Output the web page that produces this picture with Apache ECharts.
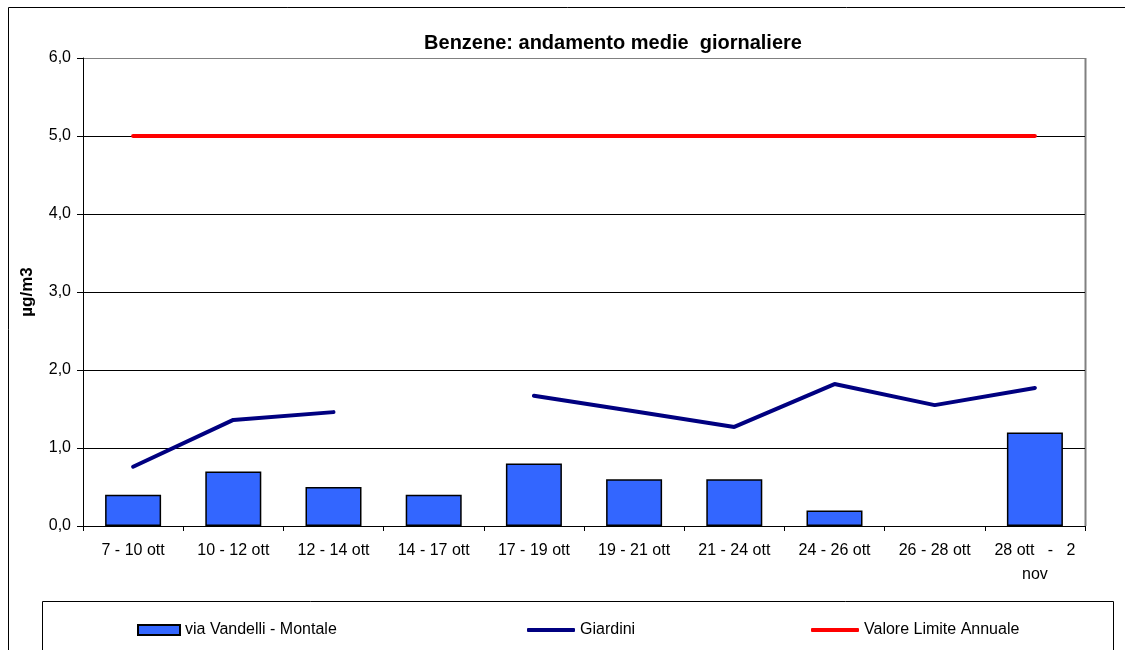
<!DOCTYPE html>
<html>
<head>
<meta charset="utf-8">
<script src="https://cdn.jsdelivr.net/npm/echarts@6/dist/echarts.min.js"></script>
<style>
  html, body { margin: 0; padding: 0; background: #fff; }
  #chart { width: 1125px; height: 650px; }
</style>
</head>
<body>
<div id="chart"></div>
<script>
const categories = ['7 - 10 ott', '10 - 12 ott', '12 - 14 ott', '14 - 17 ott', '17 - 19 ott',
  '19 - 21 ott', '21 - 24 ott', '24 - 26 ott', '26 - 28 ott', '28 ott   -   2\nnov'];
const vandelli = [0.4, 0.7, 0.5, 0.4, 0.8, 0.6, 0.6, 0.2, null, 1.2];
const giardini = [0.76, 1.36, 1.46, null, 1.67, 1.47, 1.27, 1.82, 1.55, 1.77];
const limite = [5, 5, 5, 5, 5, 5, 5, 5, 5, 5];
const yTicks = [0, 1, 2, 3, 4, 5, 6];

const font = 'Liberation Sans, Arial, sans-serif';
const chart = echarts.init(document.getElementById('chart'));

const legendBase = {
  top: 617,
  textStyle: { fontFamily: font, fontSize: 16, color: '#000' },
  itemGap: 4
};

chart.setOption({
  animation: false,
  title: {
    text: 'Benzene: andamento medie  giornaliere',
    left: 608, top: 28, textAlign: 'center',
    textStyle: { fontFamily: font, fontSize: 20, fontWeight: 'bold', color: '#000' }
  },
  graphic: [
    { type: 'rect', shape: { x: 8.5, y: 7.5, width: 1130, height: 660 },
      style: { fill: 'none', stroke: '#000', lineWidth: 1 }, z: -1 },
    { type: 'rect', shape: { x: 42.5, y: 601.5, width: 1071, height: 60 },
      style: { fill: 'none', stroke: '#000', lineWidth: 1 }, z: -1 },
    // right border of the plot area
    { type: 'line', shape: { x1: 1085.5, y1: 58, x2: 1085.5, y2: 526 },
      style: { stroke: '#808080', lineWidth: 2 }, z: 0 }
  ],
  legend: [
    Object.assign({}, legendBase, { left: 132, data: ['via Vandelli - Montale'],
      itemWidth: 42, itemHeight: 10, icon: 'rect', itemGap: 6 }),
    Object.assign({}, legendBase, { left: 522, data: ['Giardini'],
      itemWidth: 48, itemHeight: 4, icon: 'roundRect' }),
    Object.assign({}, legendBase, { left: 806, data: ['Valore Limite Annuale'],
      itemWidth: 48, itemHeight: 4, icon: 'roundRect' })
  ],
  grid: { left: 83, right: 40, top: 58, bottom: 124 },
  xAxis: {
    type: 'category',
    data: categories,
    axisLine: { lineStyle: { color: '#000', width: 1 } },
    axisTick: { show: true, length: 5, lineStyle: { color: '#000' } },
    axisLabel: { fontFamily: font, fontSize: 16, color: '#000', margin: 13, lineHeight: 24, interval: 0 }
  },
  yAxis: {
    type: 'value',
    min: yTicks[0], max: yTicks[yTicks.length - 1], interval: 1,
    name: 'µg/m3',
    nameLocation: 'middle',
    nameGap: 47,
    nameTextStyle: { fontFamily: font, fontSize: 17, fontWeight: 'bold', color: '#000' },
    axisLine: { show: true, lineStyle: { color: '#000' } },
    axisTick: { show: true, length: 6, lineStyle: { color: '#000' } },
    axisLabel: {
      fontFamily: font, fontSize: 16, color: '#000', margin: 12,
      formatter: v => v.toFixed(1).replace('.', ',')
    },
    splitLine: {
      show: true,
      lineStyle: { color: ['#000', '#000', '#000', '#000', '#000', '#000', '#808080'], width: 1 }
    }
  },
  series: [
    {
      name: 'via Vandelli - Montale',
      type: 'bar',
      data: vandelli,
      barWidth: 56,
      itemStyle: { color: '#3366FF', borderColor: '#000', borderWidth: 1.5 }
    },
    {
      name: 'Giardini',
      type: 'line',
      data: giardini,
      connectNulls: false,
      symbol: 'none',
      lineStyle: { color: '#000080', width: 4, cap: 'round' },
      itemStyle: { color: '#000080' }
    },
    {
      name: 'Valore Limite Annuale',
      type: 'line',
      data: limite,
      symbol: 'none',
      lineStyle: { color: '#FF0000', width: 4, cap: 'round' },
      itemStyle: { color: '#FF0000' }
    }
  ]
});
</script>
</body>
</html>
